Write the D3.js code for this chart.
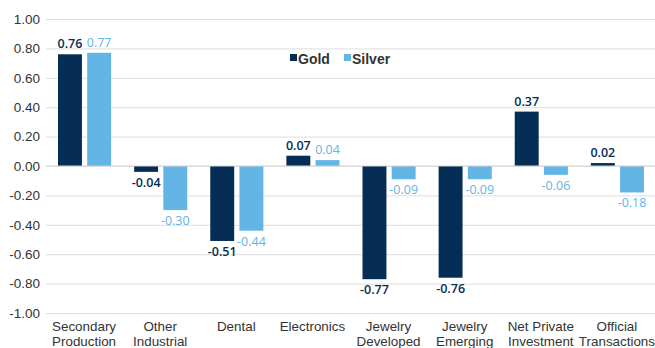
<!DOCTYPE html>
<html>
<head>
<meta charset="utf-8">
<script src="https://cdn.jsdelivr.net/npm/d3@7"></script>
<style>
  html, body { margin: 0; padding: 0; background: #fff; }
  svg { display: block; font-family: "Liberation Sans", Arial, sans-serif; }
</style>
</head>
<body>
<svg id="chart" width="655" height="348"></svg>
<script>
// Categories (two-line labels)
const categories = [
  ["Secondary", "Production"],
  ["Other", "Industrial"],
  ["Dental"],
  ["Electronics"],
  ["Jewelry", "Developed"],
  ["Jewelry", "Emerging"],
  ["Net Private", "Investment"],
  ["Official", "Transactions"]
];
const goldValues   = [0.76, -0.04, -0.51, 0.07, -0.77, -0.76, 0.37, 0.02];
const silverValues = [0.77, -0.30, -0.44, 0.04, -0.09, -0.09, -0.06, -0.18];
const seriesNames  = ["Gold", "Silver"];
const tickValues   = [1.0, 0.8, 0.6, 0.4, 0.2, 0.0, -0.2, -0.4, -0.6, -0.8, -1.0];

const colors = { Gold: "#052d55", Silver: "#62b5e5" };

const svg = d3.select("#chart");
const margin = { left: 46, right: 0 };
const W = 655;

const y = d3.scaleLinear().domain([-1, 1]).range([313, 19]);
const x0 = d3.scaleBand().domain(d3.range(categories.length)).range([margin.left, W]);
const x1 = d3.scaleBand().domain(seriesNames).range([12, x0.bandwidth() - 11]).paddingInner(0.18);

const fmt = v => d3.format(".2f")(v).replace("−", "-");

// Gridlines and y tick labels
const yAxis = d3.axisLeft(y).tickValues(tickValues).tickFormat(fmt).tickSize(-(W - margin.left)).tickPadding(6);
const gy = svg.append("g").attr("transform", `translate(${margin.left},0)`).call(yAxis);
gy.select(".domain").remove();
gy.selectAll(".tick line").attr("stroke", "#dedede").attr("stroke-width", 1);
gy.selectAll(".tick text").attr("fill", "#333").style("font-size", "13.5px")
  .attr("font-family", "Liberation Sans, Arial, sans-serif");

const data = categories.map((c, i) => ({ i, vals: [
  { s: "Gold", v: goldValues[i] },
  { s: "Silver", v: silverValues[i] }
]}));

const groups = svg.append("g").selectAll("g").data(data).join("g")
  .attr("transform", d => `translate(${x0(d.i)},0)`);

groups.selectAll("rect").data(d => d.vals).join("rect")
  .attr("x", d => x1(d.s))
  .attr("width", x1.bandwidth())
  .attr("y", d => y(Math.max(0, d.v)))
  .attr("height", d => Math.abs(y(d.v) - y(0)))
  .attr("fill", d => colors[d.s]);

// Zero line over the bars
svg.append("line")
  .attr("x1", margin.left).attr("x2", W)
  .attr("y1", y(0)).attr("y2", y(0))
  .attr("stroke", "#d6d6d6").attr("stroke-width", 1.2);

// Value labels
groups.selectAll("text.val").data(d => d.vals).join("text")
  .attr("class", "val")
  .attr("x", d => x1(d.s) + x1.bandwidth() / 2)
  .attr("y", d => d.v >= 0 ? y(d.v) - 6 : y(d.v) + 15)
  .attr("text-anchor", "middle")
  .attr("fill", d => colors[d.s])
  .style("font-family", "'Open Sans', sans-serif")
  .style("font-size", "12.5px")
  .style("font-weight", d => d.s === "Gold" ? 600 : 400)
  .text(d => fmt(d.v));

// Category labels
const cat = svg.append("g").selectAll("text").data(categories).join("text")
  .attr("x", (d, i) => x0(i) + x0.bandwidth() / 2)
  .attr("y", 331)
  .attr("text-anchor", "middle")
  .attr("fill", "#333")
  .style("font-size", "13.4px");
cat.selectAll("tspan").data(d => d).join("tspan")
  .attr("x", function() { return d3.select(this.parentNode).attr("x"); })
  .attr("dy", (d, j) => j === 0 ? 0 : 14.5)
  .text(d => d);

// Legend
const legend = svg.append("g");
const legendItems = [{ s: "Gold", x: 290 }, { s: "Silver", x: 344 }];
legendItems.forEach(it => {
  legend.append("rect").attr("x", it.x).attr("y", 54).attr("width", 7).attr("height", 7).attr("fill", colors[it.s]);
  legend.append("text").attr("x", it.x + 8).attr("y", 63.5).attr("fill", "#333")
    .style("font-size", "14px").style("font-weight", 600).text(it.s);
});
</script>
</body>
</html>
